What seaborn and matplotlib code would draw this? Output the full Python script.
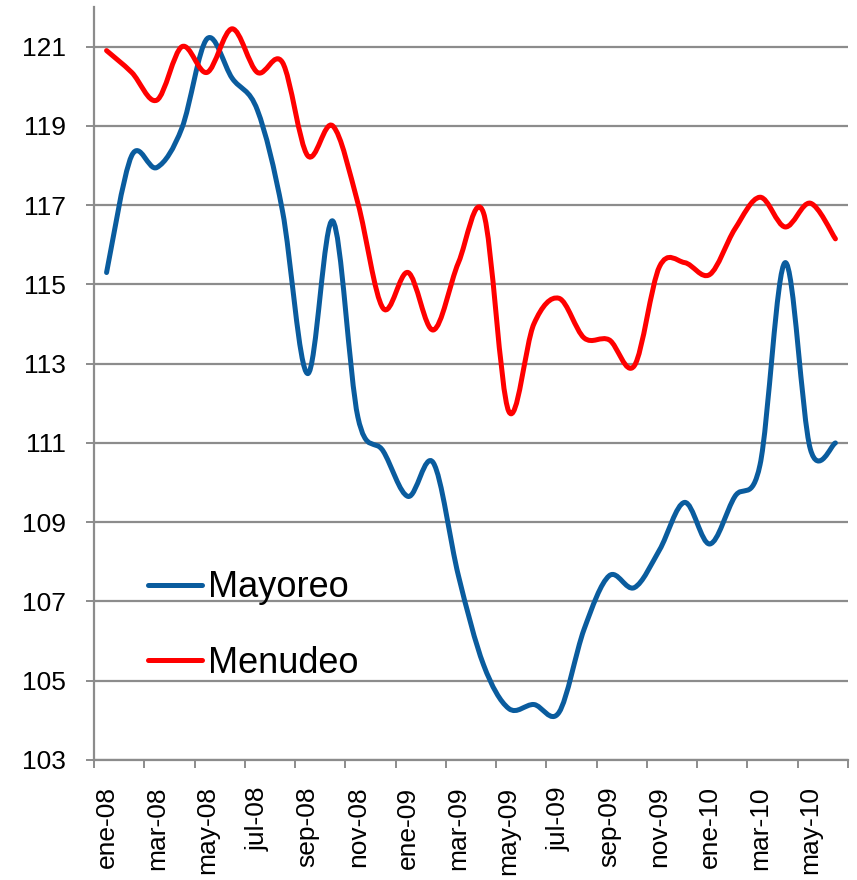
import numpy as np
import pandas as pd
import seaborn as sns
import matplotlib.pyplot as plt
from matplotlib.path import Path
from matplotlib.patches import PathPatch

# indices de precios, ene-08 a jun-10
fechas = ['ene-08', 'feb-08', 'mar-08', 'abr-08', 'may-08', 'jun-08',
          'jul-08', 'ago-08', 'sep-08', 'oct-08', 'nov-08', 'dic-08',
          'ene-09', 'feb-09', 'mar-09', 'abr-09', 'may-09', 'jun-09',
          'jul-09', 'ago-09', 'sep-09', 'oct-09', 'nov-09', 'dic-09',
          'ene-10', 'feb-10', 'mar-10', 'abr-10', 'may-10', 'jun-10']
mayoreo = [115.3, 118.25, 117.95, 118.95, 121.2, 120.2, 119.4, 116.85, 112.75, 116.6,
           111.65, 110.8, 109.65, 110.5, 107.65, 105.4, 104.3, 104.4, 104.2, 106.3,
           107.65, 107.35, 108.3, 109.5, 108.45, 109.65, 110.45, 115.55, 110.85, 111.0]
menudeo = [120.9, 120.35, 119.65, 121.0, 120.35, 121.45, 120.35, 120.6, 118.25, 119.0,
           117.05, 114.4, 115.3, 113.85, 115.55, 116.8, 111.8, 114.0, 114.65, 113.65,
           113.6, 112.95, 115.45, 115.55, 115.25, 116.4, 117.2, 116.45, 117.05, 116.15]
y_ticks = [103, 105, 107, 109, 111, 113, 115, 117, 119, 121]

colores = {'Mayoreo': '#0A5C9E', 'Menudeo': '#FF0000'}
GRIS = '#8C8C8C'
LW = 3.6


def smooth_path(xs, ys):
    # curva suavizada tipo Excel (bezier cubica entre puntos)
    p = np.column_stack([xs, ys]).astype(float)
    n = len(p)
    verts = [p[0]]
    codes = [Path.MOVETO]
    for i in range(n - 1):
        p0 = p[i - 1] if i > 0 else p[i]
        p3 = p[i + 2] if i + 2 < n else p[i + 1]
        c1 = p[i] + (p[i + 1] - p0) / 6.0
        c2 = p[i + 1] - (p3 - p[i]) / 6.0
        verts += [c1, c2, p[i + 1]]
        codes += [Path.CURVE4] * 3
    return Path(verts, codes)


df = pd.DataFrame({'idx': list(range(len(fechas))) * 2,
                   'valor': mayoreo + menudeo,
                   'serie': ['Mayoreo'] * len(mayoreo) + ['Menudeo'] * len(menudeo)})

sns.set_style('white')
plt.rcParams['font.family'] = ['Liberation Sans', 'DejaVu Sans']
plt.rcParams['text.color'] = 'black'
plt.rcParams['xtick.labelcolor'] = 'black'
plt.rcParams['ytick.labelcolor'] = 'black'

fig = plt.figure(figsize=(8.57, 8.80), dpi=100)
ax = fig.add_axes([94 / 857, 120 / 880, 754 / 857, 753 / 880])

sns.lineplot(data=df, x='idx', y='valor', hue='serie', palette=colores,
             linewidth=LW, ax=ax)

leg = ax.get_legend()
handles = leg.legend_handles
labels = [t.get_text() for t in leg.get_texts()]
leg.remove()
leyenda = ax.legend(handles, labels, loc='upper left', bbox_to_anchor=(0.0716, 0.252),
                    frameon=False, fontsize=26, handlelength=1.5, handletextpad=0.17,
                    labelspacing=1.12, borderpad=0, borderaxespad=0)
for t in leyenda.get_texts():
    t.set_color('black')

# reemplazar las lineas rectas por curvas suavizadas
for line in ax.lines:
    line.set_visible(False)
for nombre, vals in [('Mayoreo', mayoreo), ('Menudeo', menudeo)]:
    patch = PathPatch(smooth_path(range(len(vals)), vals), facecolor='none',
                      edgecolor=colores[nombre], linewidth=LW,
                      capstyle='round', joinstyle='round', zorder=3)
    ax.add_patch(patch)

ax.set_xlim(-0.5, len(fechas) - 0.5)
ax.set_ylim(103, 122)
ax.set_yticks(y_ticks)
ax.set_yticklabels([str(v) for v in y_ticks], fontsize=19)
ax.set_xticks(range(0, len(fechas), 2))
ax.set_xticklabels(fechas[::2], rotation=90, fontsize=19)
ax.set_xticks(np.arange(-0.5, len(fechas), 2), minor=True)
ax.tick_params(axis='x', which='major', length=0, pad=19)
ax.tick_params(axis='x', which='minor', length=6, width=1.4, color=GRIS,
               direction='out', bottom=True)
ax.tick_params(axis='y', length=6, width=1.4, color=GRIS, pad=14, left=True)
ax.set_xlabel('')
ax.set_ylabel('')

ax.grid(axis='y', color=GRIS, linewidth=1.6)
ax.set_axisbelow(True)
sns.despine(ax=ax)
for s in ['left', 'bottom']:
    ax.spines[s].set_color(GRIS)
    ax.spines[s].set_linewidth(1.6)

fig.savefig('out.png', dpi=100)
